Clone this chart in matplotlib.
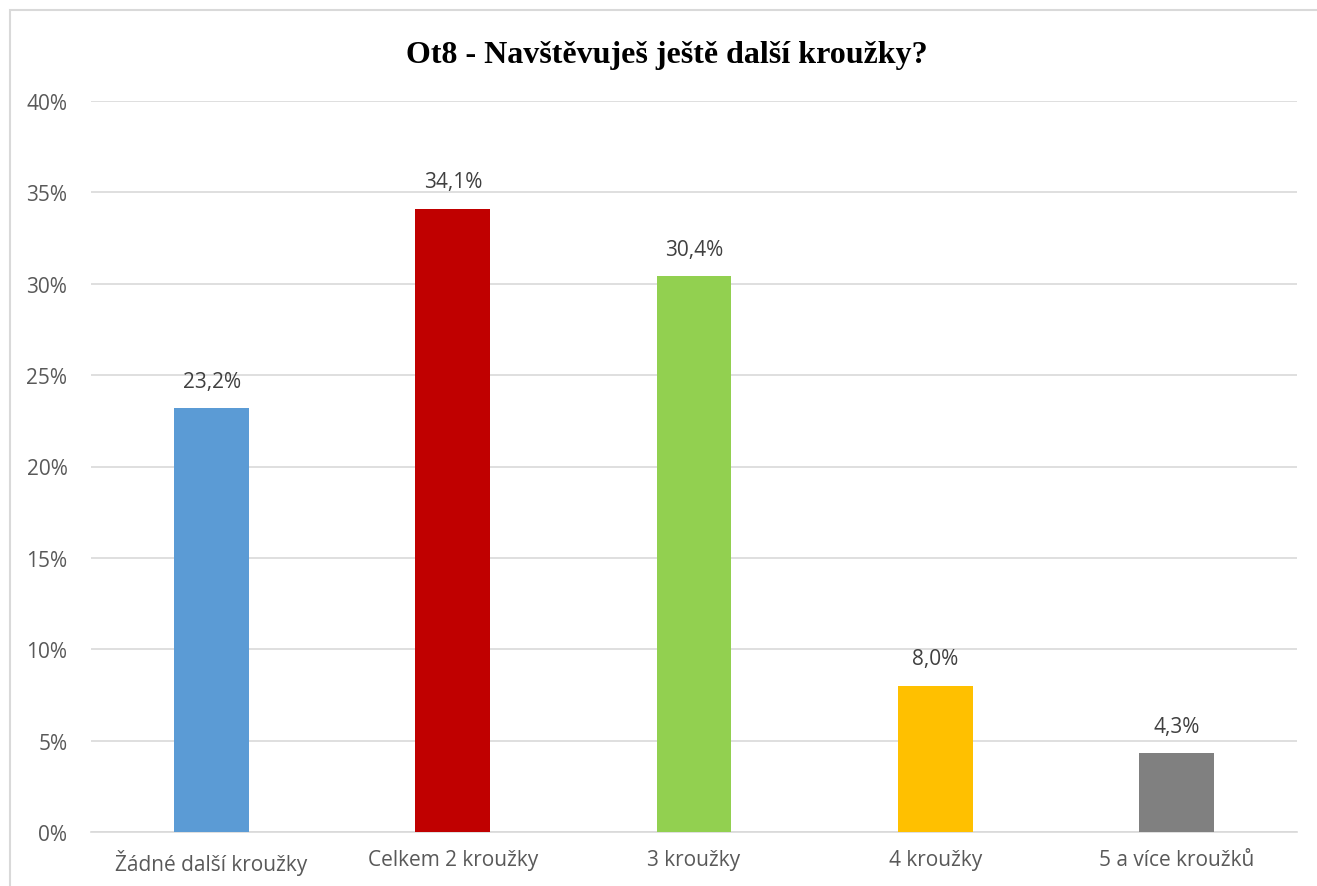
import matplotlib.pyplot as plt
from matplotlib.patches import Rectangle
from matplotlib.ticker import MultipleLocator, FuncFormatter

categories = ['Žádné další kroužky', 'Celkem 2 kroužky', '3 kroužky', '4 kroužky', '5 a více kroužků']
values = [23.2, 34.1, 30.4, 8.0, 4.3]
colors = ['#5B9BD5', '#C00000', '#92D050', '#FFC000', '#808080']

plt.rcParams['font.family'] = ['Open Sans', 'DejaVu Sans']

fig = plt.figure(figsize=(13.17, 8.87), dpi=100)
ax = fig.add_axes([91 / 1317, 1 - 833 / 887, (1297 - 91) / 1317, (833 - 102) / 887])

# chart border (extends past the right and bottom edges like in the source)
fig.patches.append(Rectangle((10 / 1317, -0.05), 1.2, 1 - 11 / 887 + 0.05,
                             transform=fig.transFigure, fill=False,
                             edgecolor='#D9D9D9', linewidth=1.5))

x = range(len(categories))
bars = ax.bar(x, values, width=0.31, color=colors, zorder=3)
for b, v in zip(bars, values):
    ax.text(b.get_x() + b.get_width() / 2, v + 0.9, f'{v:.1f}%'.replace('.', ','),
            ha='center', va='bottom', fontsize=15, color='#404040')

ax.set_xlim(-0.5, len(categories) - 0.5)
ax.set_ylim(0, 40)
ax.yaxis.set_major_locator(MultipleLocator(5))
ax.yaxis.set_major_formatter(FuncFormatter(lambda v, p: f'{v:.0f}%'))
ax.set_xticks(list(x))
ax.set_xticklabels(categories)
ax.tick_params(axis='both', length=0, labelsize=15, colors='#595959')
ax.tick_params(axis='x', pad=12)
ax.tick_params(axis='y', pad=17)
ax.grid(axis='y', color='#D9D9D9', linewidth=1.2, zorder=0)
for s in ['top', 'right', 'left']:
    ax.spines[s].set_visible(False)
ax.spines['bottom'].set_color('#D9D9D9')
ax.spines['bottom'].set_linewidth(1.2)

fig.text(667 / 1317, 1 - 55 / 887, 'Ot8 - Navštěvuješ ještě další kroužky?',
         ha='center', va='center', fontsize=23, fontweight='bold',
         family='Liberation Serif', color='black')

fig.savefig('out.png', dpi=100)
